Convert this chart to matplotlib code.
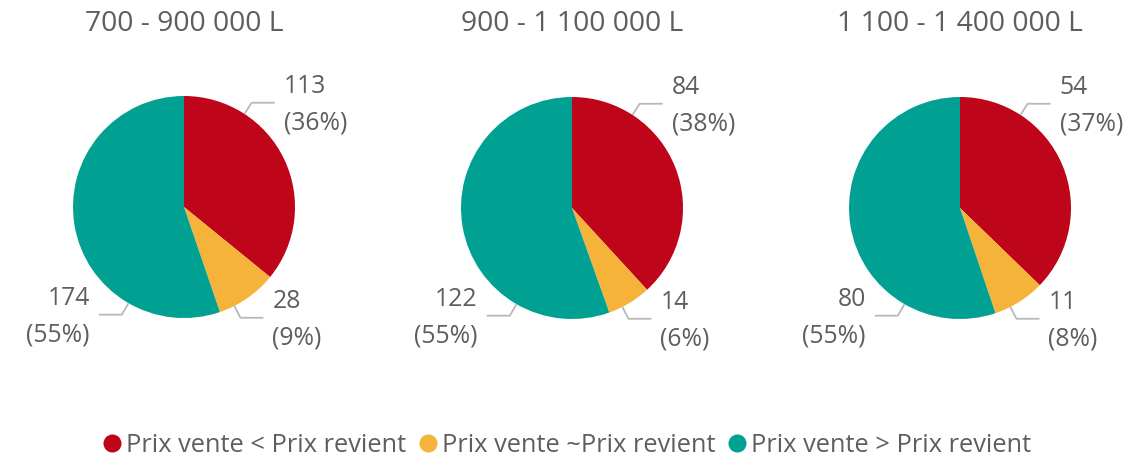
import numpy as np
import matplotlib
matplotlib.use("Agg")
import matplotlib.pyplot as plt
from matplotlib.lines import Line2D

# ---- data ----
titles = ["700 - 900 000 L", "900 - 1 100 000 L", "1 100 - 1 400 000 L"]
categories = ["Prix vente < Prix revient", "Prix vente ~Prix revient", "Prix vente > Prix revient"]
values_700_900 = [113, 28, 174]
values_900_1100 = [84, 14, 122]
values_1100_1400 = [54, 11, 80]
all_values = [values_700_900, values_900_1100, values_1100_1400]

# ---- style ----
colors = ["#BE0519", "#F6B33A", "#00A092"]
text_color = "#605E5C"
line_color = "#B8B8B8"
plt.rcParams['font.family'] = ['Open Sans', 'DejaVu Sans']

W, H = 1137, 457
fig = plt.figure(figsize=(W / 100, H / 100), dpi=100)
ax = fig.add_axes([0, 0, 1, 1])

centers = [(184, 250), (572, 249), (960, 249)]
R = 111
label_angles = [57, -63, 240]      # where the leader lines attach
elbow_r = 1.12
hlen = 23
gap = 9

for vals, c, title in zip(all_values, centers, titles):
    ax.pie(vals, colors=colors, startangle=90, counterclock=False,
           center=c, radius=R, wedgeprops=dict(linewidth=0))
    total = sum(vals)
    for v, a in zip(vals, label_angles):
        rad = np.deg2rad(a)
        sx, sy = c[0] + R * np.cos(rad), c[1] + R * np.sin(rad)
        ex, ey = c[0] + elbow_r * R * np.cos(rad), c[1] + elbow_r * R * np.sin(rad)
        side = 1 if np.cos(rad) >= 0 else -1
        hx = ex + side * hlen
        ax.plot([sx, ex, hx], [sy, ey, ey], color=line_color, lw=1.3,
                solid_capstyle='butt', zorder=1)
        pct = round(100 * v / total)
        ax.text(hx + side * gap, ey - 2, f"{v}\n({pct}%)",
                ha='left' if side > 0 else 'right', va='center',
                fontsize=17.8, color=text_color, linespacing=1.6,
                multialignment='left' if side > 0 else 'right')
    ax.text(c[0], 433, title, ha='center', va='center', fontsize=20.3,
            color=text_color)

ax.set_xlim(0, W)
ax.set_ylim(0, H)
ax.set_aspect('equal')
ax.axis('off')

handles = [Line2D([], [], marker='o', linestyle='', markersize=13,
                  markerfacecolor=col, markeredgewidth=0) for col in colors]
leg = fig.legend(handles, categories, loc='center', bbox_to_anchor=(0.497, 12 / H),
                 ncol=3, frameon=False, handletextpad=0.05, columnspacing=0.35,
                 handlelength=1.0, prop={'size': 18.3})
for t in leg.get_texts():
    t.set_color(text_color)

fig.savefig("out.png", dpi=100)
